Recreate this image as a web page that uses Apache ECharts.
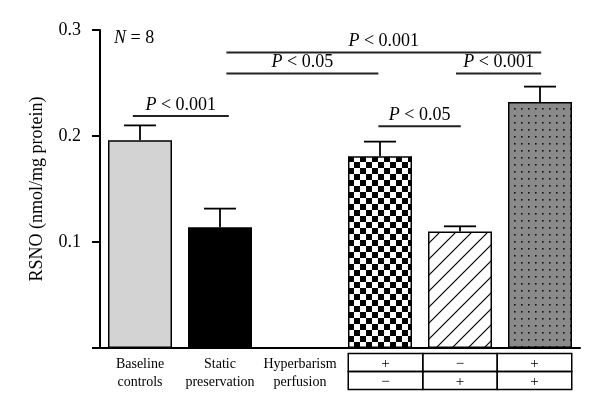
<!DOCTYPE html>
<html>
<head>
<meta charset="utf-8">
<script src="https://cdn.jsdelivr.net/npm/echarts@6/dist/echarts.min.js"></script>
<style>html,body{margin:0;padding:0;background:#fff}#c{width:600px;height:417px}</style>
</head>
<body>
<div id="c"></div>
<script>
// ---- data ----
const categories = ['Baseline\ncontrols', 'Static\npreservation', 'Hyperbarism\nperfusion', '', '', ''];
const means = [0.196, 0.114, null, 0.181, 0.110, 0.232];
const upper = [0.210, 0.1315, null, 0.1947, 0.1148, 0.2466];
const yTicks = [0, 0.1, 0.2, 0.3];
// significance brackets (span in category-axis units, level in RSNO units)
const sigStart = [0.41, 1.58, 1.58, 4.45, 3.48];
const sigEnd   = [1.61, 5.515, 3.48, 5.515, 4.51];
const sigLevel = [0.2189, 0.2787, 0.2589, 0.2589, 0.2092];
const sigText  = ['< 0.001', '< 0.001', '< 0.05', '< 0.001', '< 0.05'];
// condition table under the last three bars
const tableCats = [3, 4, 5];
const hyperbarism = ['+', '\u2212', '+'];
const perfusion   = ['\u2212', '+', '+'];

const FONT = "'Liberation Serif', 'Times New Roman', serif";

function makeCanvas(w, h, draw) {
  const c = document.createElement('canvas');
  c.width = w; c.height = h;
  draw(c.getContext('2d'));
  return c;
}
const checker = makeCanvas(12, 12, g => {
  g.fillStyle = '#fff'; g.fillRect(0, 0, 12, 12);
  g.fillStyle = '#000'; g.fillRect(0, 0, 6, 6); g.fillRect(6, 6, 6, 6);
});
const hatch = makeCanvas(16, 16, g => {
  g.fillStyle = '#fff'; g.fillRect(0, 0, 16, 16);
  g.strokeStyle = '#000'; g.lineWidth = 1.2;
  g.beginPath();
  g.moveTo(-2, 18); g.lineTo(18, -2);
  g.moveTo(-2, 2); g.lineTo(2, -2);
  g.moveTo(14, 18); g.lineTo(18, 14);
  g.stroke();
});
const dots = makeCanvas(7, 7, g => {
  g.fillStyle = '#8a8a8a'; g.fillRect(0, 0, 7, 7);
  g.fillStyle = '#111'; g.fillRect(3, 3, 1.6, 1.6);
});
const fills = ['#d3d3d3', '#000', '#fff',
  {image: checker, repeat: 'repeat'},
  {image: hatch, repeat: 'repeat'},
  {image: dots, repeat: 'repeat'}];

const barData = means.map((v, i) => v == null ? null : ({
  value: v,
  itemStyle: {color: fills[i], borderColor: '#000', borderWidth: 1.5}
}));
const errData = means.map((v, i) => v == null ? null : [i, v, upper[i]]).filter(d => d);
const sigData = sigStart.map((s, i) => [s, sigEnd[i], sigLevel[i], i]);
const tableData = tableCats.map((c, i) => [c, i]);

const chart = echarts.init(document.getElementById('c'));
chart.setOption({
  animation: false,
  title: {
    text: '{i|N} = 8', left: 109, top: 24,
    textStyle: {fontFamily: FONT, fontSize: 18, fontWeight: 'normal', color: '#000',
      rich: {i: {fontFamily: FONT, fontSize: 18, fontStyle: 'italic', color: '#000'}}}
  },
  grid: {left: 100, right: 20, top: 30, bottom: 69},
  xAxis: [{
    type: 'category', data: categories,
    axisLine: {lineStyle: {color: '#000', width: 2}},
    axisTick: {show: false},
    axisLabel: {interval: 0, color: '#000', fontFamily: FONT, fontSize: 14, lineHeight: 18, margin: 7}
  }, {
    type: 'value', min: 0, max: 6, show: false
  }],
  yAxis: {
    type: 'value', min: yTicks[0], max: yTicks[yTicks.length - 1], interval: 0.1,
    name: 'RSNO (nmol/mg protein)', nameLocation: 'middle', nameGap: 54,
    nameTextStyle: {fontFamily: FONT, fontSize: 18, color: '#000'},
    axisLine: {show: true, lineStyle: {color: '#000', width: 2}},
    axisTick: {show: true, length: 8, lineStyle: {color: '#000', width: 2}},
    axisLabel: {color: '#000', fontFamily: FONT, fontSize: 18, margin: 19,
      formatter: v => v === 0 ? '' : v.toFixed(1)},
    splitLine: {show: false}
  },
  series: [{
    type: 'bar', data: barData, barWidth: 64, silent: true
  }, {
    type: 'custom', data: errData, silent: true,
    renderItem: (params, api) => {
      const b = api.coord([api.value(0), api.value(1)]);
      const t = api.coord([api.value(0), api.value(2)]);
      return {type: 'group', children: [
        {type: 'line', shape: {x1: b[0], y1: b[1], x2: t[0], y2: t[1]}, style: {stroke: '#000', lineWidth: 1.8}},
        {type: 'line', shape: {x1: t[0] - 16, y1: t[1], x2: t[0] + 16, y2: t[1]}, style: {stroke: '#000', lineWidth: 1.8}}
      ]};
    }
  }, {
    type: 'custom', xAxisIndex: 1, data: sigData, silent: true, clip: false,
    renderItem: (params, api) => {
      const a = api.coord([api.value(0), api.value(2)]);
      const b = api.coord([api.value(1), api.value(2)]);
      const idx = api.value(3);
      return {type: 'group', children: [
        {type: 'line', shape: {x1: a[0], y1: a[1], x2: b[0], y2: b[1]}, style: {stroke: '#222', lineWidth: 2}},
        {type: 'text', x: (a[0] + b[0]) / 2, y: a[1] - 2,
          style: {text: '{i|P} ' + sigText[idx], align: 'center', verticalAlign: 'bottom',
            font: '18px ' + FONT, fill: '#000',
            rich: {i: {fontStyle: 'italic', fontFamily: FONT, fontSize: 18, fill: '#000'}}}}
      ]};
    }
  }, {
    type: 'custom', data: tableData, silent: true, clip: false,
    renderItem: (params, api) => {
      const i = api.value(1);
      const c = api.coord([tableCats[1], 0]);
      const cw = 74.5, rh = 18, top = c[1] + 5.6;
      const x0 = c[0] - cw * 1.5 + i * cw;
      const st = {stroke: '#000', fill: 'none', lineWidth: 1.5};
      const ts = {font: '15px ' + FONT, fill: '#000', align: 'center', verticalAlign: 'middle'};
      return {type: 'group', children: [
        {type: 'rect', shape: {x: x0, y: top, width: cw, height: rh}, style: st},
        {type: 'rect', shape: {x: x0, y: top + rh, width: cw, height: rh}, style: st},
        {type: 'text', x: x0 + cw / 2, y: top + rh / 2 + 1, style: Object.assign({text: hyperbarism[i]}, ts)},
        {type: 'text', x: x0 + cw / 2, y: top + rh * 1.5 + 1, style: Object.assign({text: perfusion[i]}, ts)}
      ]};
    }
  }]
});
</script>
</body>
</html>
